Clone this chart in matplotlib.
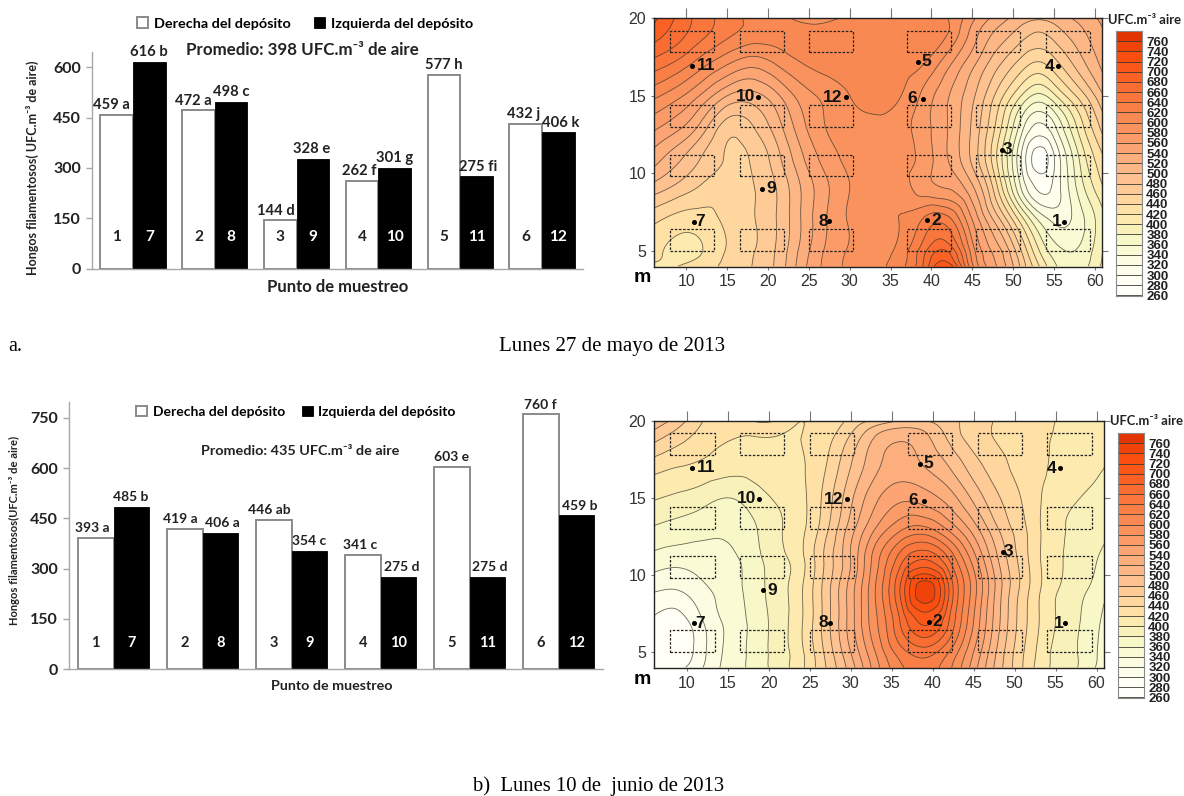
import numpy as np
import matplotlib
matplotlib.use("Agg")
import matplotlib.pyplot as plt
import matplotlib.tri as mtri
from matplotlib.colors import LinearSegmentedColormap
from matplotlib.patches import Rectangle

W, H = 1184, 796

# barras: punto de muestreo
ticks_a = [0, 150, 300, 450, 600]
derecha_a = [459, 472, 144, 262, 577, 432]
izquierda_a = [616, 498, 328, 301, 275, 406]
letras_der_a = ["459 a", "472 a", "144 d", "262 f", "577 h", "432 j"]
letras_izq_a = ["616 b", "498 c", "328 e", "301 g", "275 fi", "406 k"]

ticks_b = [0, 150, 300, 450, 600, 750]
derecha_b = [393, 419, 446, 341, 603, 760]
izquierda_b = [485, 406, 354, 275, 275, 459]
letras_der_b = ["393 a", "419 a", "446 ab", "341 c", "603 e", "760 f"]
letras_izq_b = ["485 b", "406 a", "354 c", "275 d", "275 d", "459 b"]

num_der = ["1", "2", "3", "4", "5", "6"]
num_izq = ["7", "8", "9", "10", "11", "12"]

malla_x = [6, 9, 12, 15, 18, 21, 24, 27, 30, 33, 36, 39, 42, 45, 48, 51, 53, 55, 58, 61]
malla_y = [20, 19, 17, 15, 13, 11, 9, 7, 5, 4]

mapa_a = [
    [705, 675, 650, 630, 615, 606, 597, 598, 602, 608, 612, 610, 600, 565, 532, 510, 503, 508, 525, 545],
    [690, 668, 645, 625, 612, 608, 606, 606, 608, 612, 615, 615, 600, 552, 515, 490, 478, 488, 512, 538],
    [650, 632, 605, 580, 565, 580, 598, 608, 612, 614, 610, 600, 565, 525, 485, 450, 435, 450, 488, 525],
    [605, 585, 555, 520, 512, 535, 568, 585, 600, 607, 602, 575, 542, 505, 455, 400, 375, 395, 445, 498],
    [565, 545, 510, 470, 478, 510, 552, 580, 592, 596, 590, 568, 540, 497, 435, 350, 315, 335, 405, 468],
    [530, 505, 478, 458, 462, 492, 535, 568, 585, 592, 592, 572, 540, 495, 420, 320, 270, 298, 378, 438],
    [490, 472, 455, 448, 458, 480, 520, 555, 580, 592, 592, 570, 560, 525, 445, 340, 298, 305, 365, 418],
    [445, 432, 432, 445, 458, 480, 520, 558, 582, 592, 600, 622, 628, 560, 490, 410, 360, 335, 350, 395],
    [425, 415, 420, 442, 458, 482, 525, 562, 582, 590, 606, 652, 678, 590, 530, 460, 405, 370, 362, 400],
    [418, 420, 430, 446, 460, 484, 530, 565, 584, 592, 612, 662, 715, 605, 540, 475, 425, 385, 370, 405],
]
mapa_b = [
    [495, 470, 440, 425, 420, 420, 420, 425, 445, 465, 480, 480, 468, 450, 438, 430, 425, 420, 410, 405],
    [470, 450, 432, 422, 420, 420, 420, 432, 462, 500, 515, 505, 475, 450, 438, 430, 425, 418, 408, 405],
    [428, 420, 415, 408, 408, 412, 418, 440, 480, 515, 530, 520, 500, 470, 448, 432, 425, 415, 405, 400],
    [402, 396, 388, 380, 390, 402, 415, 448, 495, 535, 555, 550, 530, 495, 462, 438, 422, 410, 400, 395],
    [378, 372, 366, 364, 376, 396, 415, 455, 510, 560, 595, 605, 575, 530, 480, 445, 422, 405, 395, 385],
    [352, 347, 350, 355, 370, 392, 415, 465, 520, 590, 650, 680, 640, 570, 500, 450, 422, 405, 390, 375],
    [322, 320, 335, 350, 368, 390, 418, 470, 530, 600, 680, 755, 680, 590, 510, 452, 422, 402, 385, 365],
    [295, 290, 320, 345, 365, 388, 418, 470, 530, 595, 660, 705, 660, 580, 505, 448, 420, 400, 380, 355],
    [290, 285, 315, 345, 365, 388, 416, 465, 520, 580, 630, 650, 620, 560, 495, 442, 415, 395, 378, 350],
    [298, 295, 320, 347, 365, 388, 415, 460, 510, 570, 615, 630, 605, 550, 490, 440, 412, 395, 378, 345],
]

# puntos de muestreo y cajas punteadas (metros)
puntos = ["1", "2", "3", "4", "5", "6", "7", "8", "9", "10", "11", "12"]
puntos_x = [56.2, 39.5, 48.6, 55.5, 38.4, 39.0, 10.9, 27.5, 19.3, 18.8, 10.7, 29.5]
puntos_y = [6.85, 6.95, 11.5, 16.9, 17.2, 14.8, 6.85, 6.9, 9.0, 14.95, 16.95, 14.9]
cajas_x = [8.0, 16.5, 25.0, 37.0, 45.5, 54.0]
cajas_y = [5.0, 9.8, 13.0, 17.8]

niveles = np.arange(260, 781, 20)
ticks_barra = np.arange(260, 761, 20)
colores_val = [260, 300, 340, 380, 420, 460, 500, 540, 600, 660, 700, 740, 780]
colores_hex = ["#ffffff", "#fffff2", "#fbfbdc", "#f6f6c0", "#ffe6a8", "#ffd09a", "#fdbd8c",
               "#fca878", "#f98e58", "#f97238", "#fb5c1e", "#f84a0c", "#dc3000"]
cmap = LinearSegmentedColormap.from_list(
    "ufc", [((v - 260) / 520, c) for v, c in zip(colores_val, colores_hex)])

plt.rcParams["font.family"] = ["Lato", "DejaVu Sans"]
fig = plt.figure(figsize=(W / 100, H / 100), dpi=100)


def caja(x0, y0, x1, y1):
    return [x0 / W, 1 - y1 / H, (x1 - x0) / W, (y1 - y0) / H]


def fig_text(x, y, s, **kw):
    kw.setdefault("ha", "center")
    kw.setdefault("va", "center")
    fig.text(x / W, 1 - y / H, s, **kw)


def barras(pos, ymax, ticks, der, izq, let_der, let_izq, dx_der, dx_izq, y_num, tam):
    ax = fig.add_axes(caja(*pos))
    x = np.arange(6) + 0.5
    ancho = 0.4
    ax.bar(x - ancho / 2, der, ancho, color="white", edgecolor="#8a8a8a", linewidth=1.4, label="Derecha del depósito")
    ax.bar(x + ancho / 2, izq, ancho, color="black", edgecolor="black", linewidth=0.6, label="Izquierda del depósito")
    for i in range(6):
        ax.annotate(let_der[i], (x[i] - ancho / 2, der[i]), xytext=(dx_der[i] * 0.72, 7), textcoords="offset points",
                    ha="center", va="center", fontsize=tam, fontweight="bold", color="#222222")
        ax.annotate(let_izq[i], (x[i] + ancho / 2, izq[i]), xytext=(dx_izq[i] * 0.72, 7), textcoords="offset points",
                    ha="center", va="center", fontsize=tam, fontweight="bold", color="#222222")
        ax.text(x[i] - ancho / 2, y_num, num_der[i], ha="center", va="center", fontsize=tam + 0.5, fontweight="bold", color="#222222")
        ax.text(x[i] + ancho / 2, y_num, num_izq[i], ha="center", va="center", fontsize=tam + 0.5, fontweight="bold", color="white")
    ax.set_xlim(0, 6)
    ax.set_ylim(0, ymax)
    ax.set_xticks([])
    ax.set_yticks(ticks)
    ax.tick_params(axis="y", length=4, width=1, color="#a8a8a8", labelsize=11.5, labelcolor="#222222", pad=4)
    for lab in ax.get_yticklabels():
        lab.set_fontweight("bold")
    for lado in ["top", "right"]:
        ax.spines[lado].set_visible(False)
    for lado in ["left", "bottom"]:
        ax.spines[lado].set_color("#a8a8a8")
        ax.spines[lado].set_linewidth(1)
    return ax


def mapa(pos, datos, x_barra, y_barra, dx_lab):
    ax = fig.add_axes(caja(*pos))
    xg, yg = np.meshgrid(malla_x, malla_y)
    tri = mtri.Triangulation(xg.ravel(), yg.ravel())
    fino, zfino = mtri.UniformTriRefiner(tri).refine_field(np.array(datos, float).ravel(), subdiv=3)
    ax.tricontourf(fino, zfino, levels=niveles, cmap=cmap, vmin=260, vmax=780, extend="both")
    ax.tricontour(fino, zfino, levels=niveles, colors="#3a3a30", linewidths=0.6, alpha=0.75)
    for xc in cajas_x:
        for yc in cajas_y:
            ax.add_patch(Rectangle((xc, yc), 5.4, 1.4, fill=False, edgecolor="#222222", linewidth=0.9, linestyle=(0, (2, 1.3))))
    ax.plot(puntos_x, puntos_y, ls="none", marker="o", ms=2.6, color="black")
    for i, p in enumerate(puntos):
        ax.annotate(p, (puntos_x[i], puntos_y[i]), xytext=(dx_lab[i], 0), textcoords="offset points",
                    ha="center", va="center", fontsize=12.5, fontweight="bold", color="#111111", family=["Liberation Sans"])
    ax.set_xlim(6.02, 60.9)
    ax.set_ylim(3.96, 20)
    ax.set_xticks(range(10, 61, 5))
    ax.set_yticks([5, 10, 15, 20])
    ax.tick_params(axis="both", length=2.5, width=0.8, color="#777777", labelsize=11.5, labelcolor="#333333", pad=3)
    for lab in ax.get_xticklabels() + ax.get_yticklabels():
        lab.set_family(["Liberation Sans Narrow", "Liberation Sans"])
    arriba = ax.secondary_xaxis("top")
    arriba.set_xticks(range(10, 61, 5), labels=[])
    arriba.tick_params(length=7, width=0.8, color="#777777")
    arriba.spines["top"].set_visible(False)
    derecha = ax.secondary_yaxis("right")
    derecha.set_yticks([5, 10, 15, 20], labels=[])
    derecha.tick_params(length=4, width=0.8, color="#777777")
    derecha.spines["right"].set_visible(False)
    for s in ax.spines.values():
        s.set_color("#222222")
        s.set_linewidth(1)
    cb = fig.add_axes(caja(*x_barra))
    for a, b in zip(niveles[:-1], niveles[1:]):
        cb.barh(a, 1, b - a, align="edge", color=cmap((a + 10 - 260) / 520))
    cb.hlines(ticks_barra, 0, 1, color="#3a3a30", lw=0.6)
    cb.set_xlim(0, 1)
    cb.set_ylim(*y_barra)
    cb.set_xticks([])
    cb.set_yticks(ticks_barra)
    cb.yaxis.tick_right()
    cb.tick_params(axis="y", length=0, labelsize=9.5, pad=3, labelcolor="#222222")
    for lab in cb.get_yticklabels():
        lab.set_fontweight("bold")
        lab.set_family(["Liberation Sans"])
    for s in cb.spines.values():
        s.set_color("#8a8a8a")
    return ax


dx_der_a = [-5, -5, -4, -2.5, 0, -2]
dx_izq_a = [0, 0, -1, 0, 2, 2.5]
dx_der_b = [-3, -4, -4, -2.5, 0, 0]
dx_izq_b = [-1, 2.5, 0, 3, 2, 3.5]

ax_a = barras((92, 52, 583, 268.5), 646, ticks_a, derecha_a, izquierda_a, letras_der_a, letras_izq_a,
              dx_der_a, dx_izq_a, 95, 10.6)
ax_b = barras((69, 401.7, 603, 669.3), 798, ticks_b, derecha_b, izquierda_b, letras_der_b, letras_izq_b,
              dx_der_b, dx_izq_b, 78, 10)

ax_a.legend(loc="center", bbox_to_anchor=(305 / W, 1 - 23.7 / H), bbox_transform=fig.transFigure, ncols=2, frameon=False,
            prop={"weight": "bold", "size": 10.4}, handlelength=0.8, handleheight=0.8, handletextpad=0.4, columnspacing=1.6)
ax_b.legend(loc="center", bbox_to_anchor=(296 / W, 1 - 411.7 / H), bbox_transform=fig.transFigure, ncols=2, frameon=False,
            prop={"weight": "bold", "size": 10}, handlelength=0.8, handleheight=0.8, handletextpad=0.4, columnspacing=1.2)

fig_text(302, 50, "Promedio: 398 UFC.m⁻³ de aire", fontsize=12.2, fontweight="bold", color="#222222")
fig_text(300, 451, "Promedio: 435 UFC.m⁻³ de aire", fontsize=10.4, fontweight="bold", color="#222222")
fig_text(32.5, 168, "Hongos filamentosos( UFC.m⁻³ de aire)", rotation=90, fontsize=9, fontweight="bold", color="#222222")
fig_text(14.5, 530, "Hongos filamentosos(UFC.m⁻³ de aire)", rotation=90, fontsize=8, fontweight="bold", color="#222222")
fig_text(337.5, 287, "Punto de muestreo", fontsize=12, fontweight="bold", color="#222222")
fig_text(332, 686, "Punto de muestreo", fontsize=10.3, fontweight="bold", color="#222222")

dx_lab = [-5, 6.5, 4, -6, 6, -8, 4.4, -4.7, 6.5, -9, 10, -9.5]
mapa((654, 18.3, 1102, 266.7), mapa_a, (1116, 31, 1142, 296), (259, 780), dx_lab)
mapa((654, 420.7, 1104, 668), mapa_b, (1118, 433, 1144, 698), (259, 780), dx_lab)

fig_text(1145, 20, "UFC.m⁻³ aire", fontsize=9.4, fontweight="bold", color="#222222")
fig_text(1147, 421, "UFC.m⁻³ aire", fontsize=9.4, fontweight="bold", color="#222222")
fig_text(651, 277, "m", fontsize=14, fontweight="bold", family=["Liberation Sans"], ha="right")
fig_text(651, 679, "m", fontsize=14, fontweight="bold", family=["Liberation Sans"], ha="right")

fig_text(8, 346, "a.", fontsize=14.5, family=["Liberation Serif"], ha="left")
fig_text(612, 346, "Lunes 27 de mayo de 2013", fontsize=15, family=["Liberation Serif"])
fig_text(598.5, 786, "b)  Lunes 10 de  junio de 2013", fontsize=14.9, family=["Liberation Serif"])

fig.savefig("out.png", dpi=100)
